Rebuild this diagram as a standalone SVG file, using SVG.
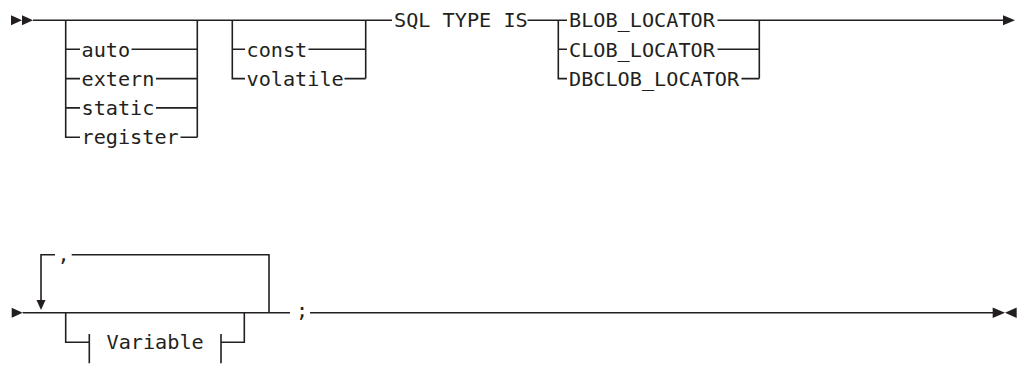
<svg xmlns="http://www.w3.org/2000/svg" width="1017" height="365" viewBox="0 0 1017 365">
<style>
.t{font-family:"DejaVu Sans Mono","Liberation Mono",monospace;font-size:20.2px;fill:#231f20}
.c{fill:none;stroke:#231f20;stroke-width:1.6}
.a{fill:#231f20}
</style>
<rect width="1017" height="365" fill="#fff"/>
<g id="connectors">
<path class="c" d="M33 20.3H392"/>
<path class="c" d="M65.7 20.3V137.3H80M65.7 49.3H80M65.7 78.6H80M65.7 107.9H80"/>
<path class="c" d="M197.3 20.3V137.3M131.5 49.3H197.3M156 78.6H197.3M156 107.9H197.3M180.5 137.3H197.3"/>
<path class="c" d="M232.3 20.3V78.6H245M232.3 49.3H245M365.7 20.3V78.6M308.5 49.3H365.7M344.5 78.6H365.7"/>
<path class="c" d="M527.5 20.3H567M558.3 20.3V78.6H567M558.3 49.3H567"/>
<path class="c" d="M717.5 20.3H1003M717.5 49.3H759.3M741.5 78.6H759.3M759.3 20.3V78.6"/>
<polygon class="a" points="11,15.3 22,20.3 11,25.3"/>
<polygon class="a" points="22,15.3 33,20.3 22,25.3"/>
<polygon class="a" points="1003,15.3 1015,20.3 1003,25.3"/>
<polygon class="a" points="11.7,307.7 22.7,312.7 11.7,317.7"/>
<path class="c" d="M22.7 312.7H290M310 312.7H993"/>
<path class="c" d="M41 300V254.7H55M71.7 254.7H269V312.7"/>
<polygon class="a" points="36.5,300 45.5,300 41,310"/>
<path class="c" d="M65.7 312.7V342.3H89.3M221 342.3H244.3V312.7"/>
<polygon class="a" points="992.7,307.4 1005,312.7 992.7,318"/>
<polygon class="a" points="1016.7,307.4 1005,312.7 1016.7,318"/>
</g>
<g id="storage-class">
<text class="t" x="81.5" y="56.5">auto</text>
<text class="t" x="81.5" y="85.8">extern</text>
<text class="t" x="81.5" y="115.1">static</text>
<text class="t" x="81.5" y="144.4">register</text>
</g>
<g id="qualifier">
<text class="t" x="246.5" y="56.5">const</text>
<text class="t" x="246.5" y="85.8">volatile</text>
</g>
<g id="sql-type-is">
<text class="t" x="394" y="27.3">SQL TYPE IS</text>
</g>
<g id="locator-type">
<text class="t" x="569" y="27.3">BLOB_LOCATOR</text>
<text class="t" x="569" y="56.5">CLOB_LOCATOR</text>
<text class="t" x="569" y="85.8">DBCLOB_LOCATOR</text>
</g>
<g id="separator">
<text class="t" x="63.5" y="261" text-anchor="middle">,</text>
</g>
<g id="variable">
<path class="c" d="M89.3 334V363.3M221 334V363.3"/>
<text class="t" x="106.5" y="349.3">Variable</text>
</g>
<g id="terminator">
<text class="t" x="302" y="317" text-anchor="middle">;</text>
</g>
</svg>
